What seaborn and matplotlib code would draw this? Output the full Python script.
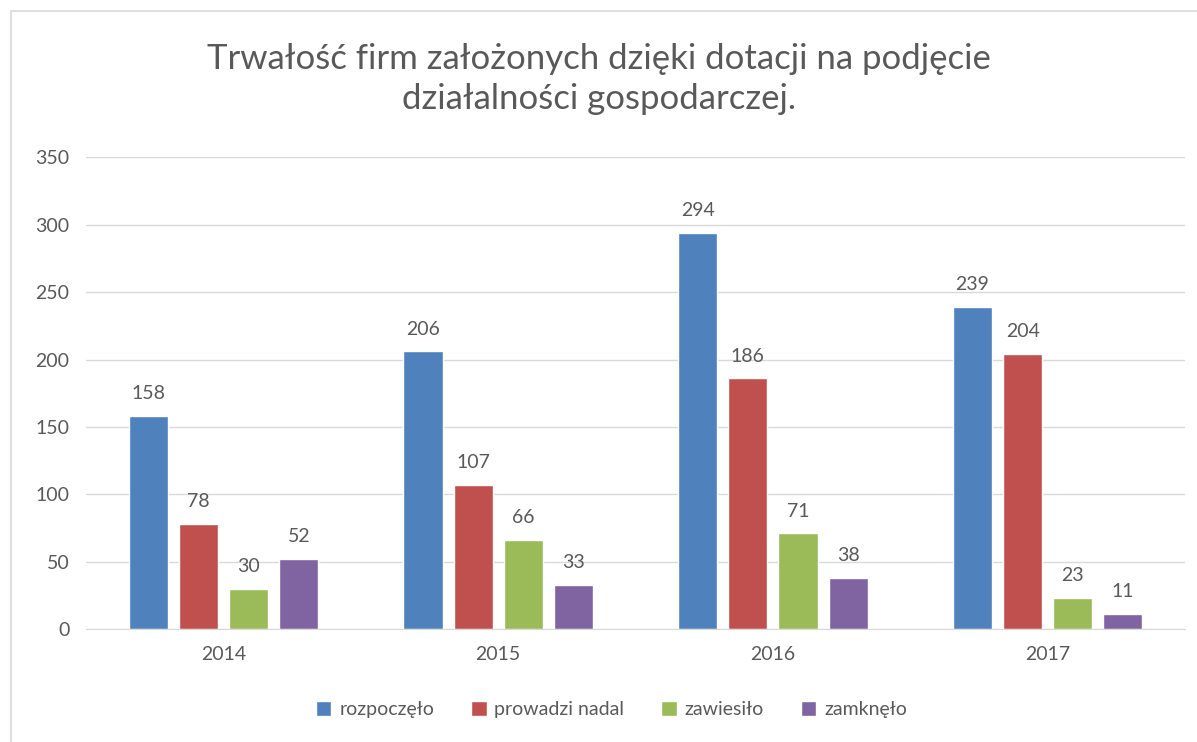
import pandas as pd
import seaborn as sns
import matplotlib.pyplot as plt
from matplotlib.patches import Rectangle

# dane z wykresu
lata = ["2014", "2015", "2016", "2017"]
serie = ["rozpoczęło", "prowadzi nadal", "zawiesiło", "zamknęło"]
rozpoczelo = [158, 206, 294, 239]
prowadzi_nadal = [78, 107, 186, 204]
zawiesilo = [30, 66, 71, 23]
zamknelo = [52, 33, 38, 11]

kolory = ["#4F81BD", "#C0504D", "#9BBB59", "#8064A2"]

df = pd.DataFrame({
    "rok": lata * 4,
    "seria": [s for s in serie for _ in lata],
    "liczba": rozpoczelo + prowadzi_nadal + zawiesilo + zamknelo,
})

sns.set_style("white")
plt.rcParams["font.family"] = ["Lato", "DejaVu Sans"]
szary = "#595959"

fig = plt.figure(figsize=(11.97, 7.42), dpi=100)
ax = fig.add_axes([0.072, 0.152, 0.918, 0.636])

sns.barplot(data=df, x="rok", y="liczba", hue="seria", order=lata,
            hue_order=serie, palette=kolory, width=0.73, gap=0.22,
            saturation=1, ax=ax, legend=True)

for cont in ax.containers:
    ax.bar_label(cont, padding=10, fontsize=14, color=szary)

ax.set_ylim(0, 350)
ax.set_yticks(range(0, 351, 50))
ax.yaxis.grid(True, color="#D9D9D9", linewidth=1)
ax.set_axisbelow(True)
for s in ["top", "right", "left"]:
    ax.spines[s].set_visible(False)
ax.spines["bottom"].set_color("#D9D9D9")
ax.tick_params(axis="both", labelsize=14, colors=szary, length=0, pad=12)
ax.set_xlabel("")
ax.set_ylabel("")

ax.legend(loc="upper center", bbox_to_anchor=(0.478, -0.115), ncol=4,
          frameon=False, fontsize=14, labelcolor=szary, handlelength=0.8,
          handleheight=0.8, handletextpad=0.4, columnspacing=1.9)

fig.text(0.5, 0.893, "Trwałość firm założonych dzięki dotacji na podjęcie\ndziałalności gospodarczej.",
         ha="center", va="center", fontsize=25, color=szary, linespacing=1.3)

# ramka wykresu
fig.patches.append(Rectangle((0.009, -0.01), 1.0, 0.995, transform=fig.transFigure,
                             fill=False, edgecolor="#D9D9D9", linewidth=1.2))

fig.savefig("out.png", dpi=100)
